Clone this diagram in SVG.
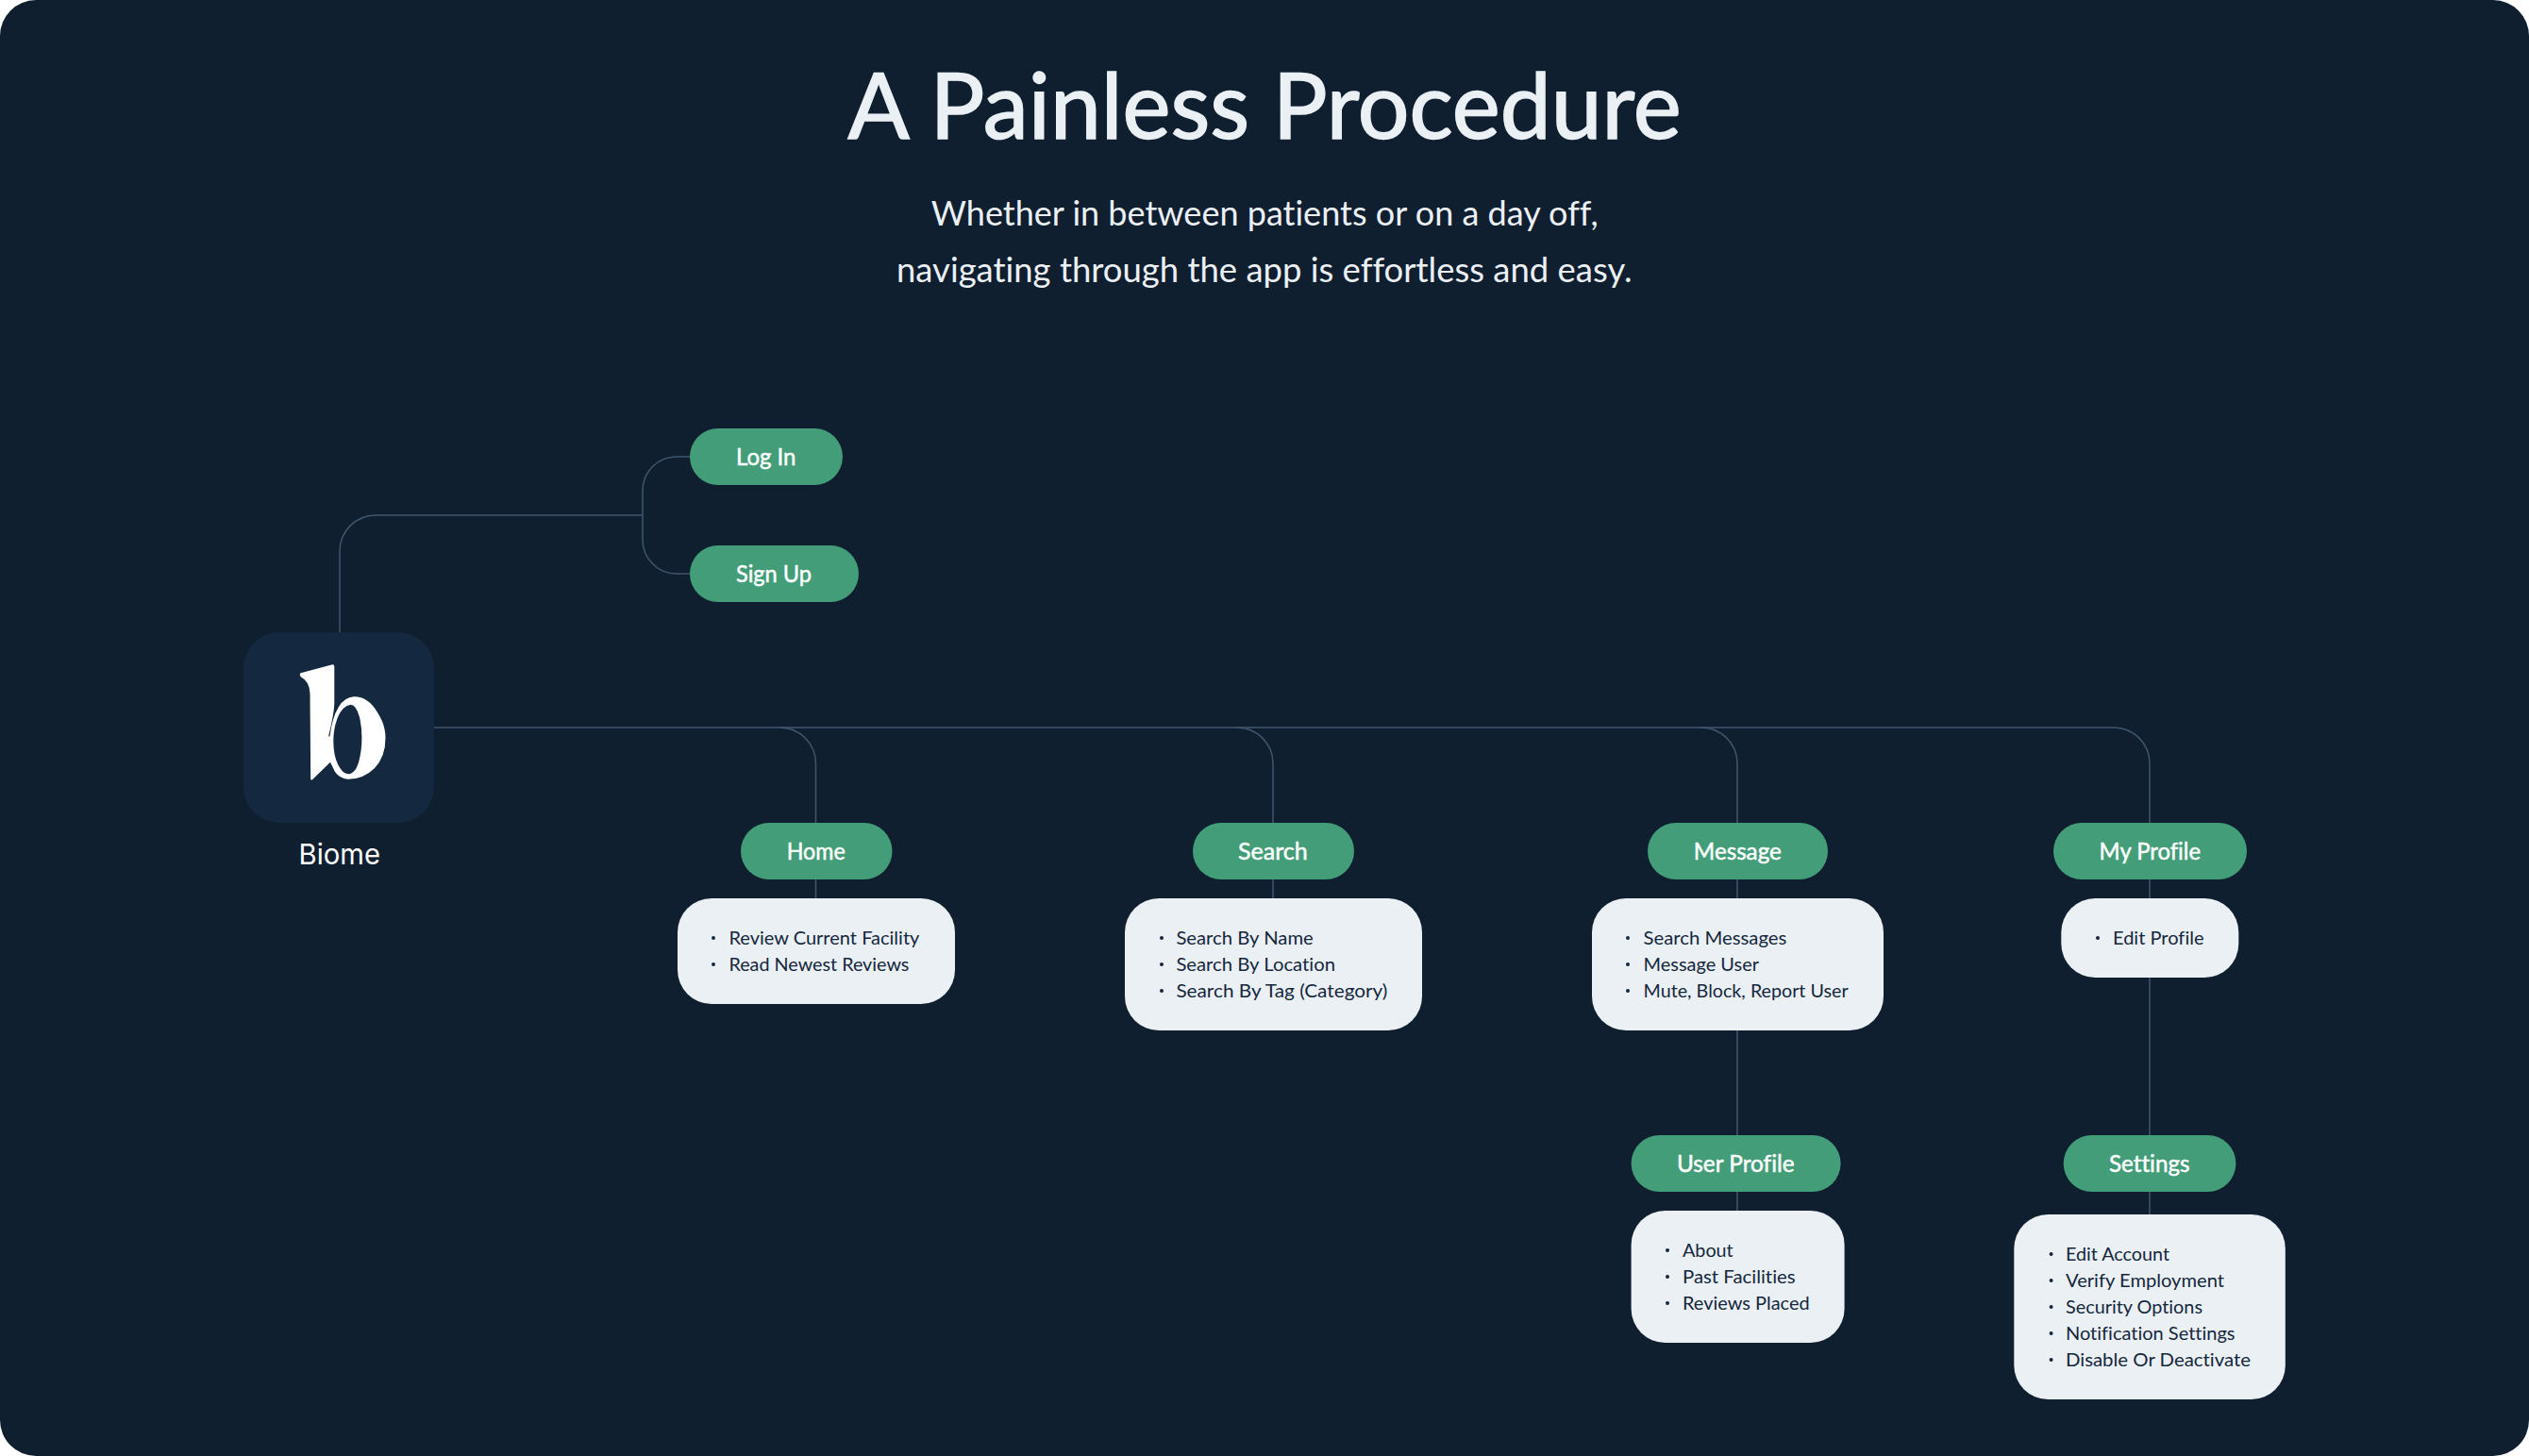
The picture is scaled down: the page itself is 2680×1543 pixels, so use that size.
<svg xmlns="http://www.w3.org/2000/svg" width="2680" height="1543" viewBox="0 0 2680 1543">
<style>
text{font-family:"Lato","Noto Sans","Liberation Sans",sans-serif;font-variant-ligatures:none}
.pill{fill:#429d78}
.box{fill:#ebf0f5}
.pt{fill:#fff;font-size:25px;font-weight:400;stroke:#fff;stroke-width:.5px}
.li{fill:#14273d;font-size:20px;font-weight:400}
.bu{fill:#14273d}
.c{fill:none;stroke:#3f566e;stroke-width:1.5}
</style>
<rect width="2680" height="1543" fill="#fff"/>
<rect width="2680" height="1543" rx="38" fill="#101f30"/>
<g id="title">
<text x="898.6" y="147" font-size="96" font-weight="400" fill="#ebf0f5" stroke="#ebf0f5" stroke-width="1.6" textLength="883" lengthAdjust="spacingAndGlyphs">A Painless Procedure</text>
<text x="986.7" y="239" font-size="36" font-weight="400" fill="#ebf0f5" textLength="707" lengthAdjust="spacingAndGlyphs">Whether in between patients or on a day off,</text>
<text x="950" y="299" font-size="36" font-weight="400" fill="#ebf0f5" textLength="779.5" lengthAdjust="spacingAndGlyphs">navigating through the app is effortless and easy.</text>
</g>
<g id="connectors">
<path class="c" d="M360 670V584a38 38 0 0 1 38-38H680.5"/>
<path class="c" d="M731 484H717a36 36 0 0 0-36 36V572a36 36 0 0 0 36 36H731"/>
<path class="c" d="M460 771H2240a38 38 0 0 1 38 38V1287"/>
<path class="c" d="M826 771a38 38 0 0 1 38.500 38V952"/>
<path class="c" d="M1311 771a38 38 0 0 1 38 38V952"/>
<path class="c" d="M1803 771a38 38 0 0 1 38 38V1283"/>
</g>
<g id="biome">
<rect x="258" y="670" width="202" height="202" rx="38" fill="#14293f"/>
<path fill="#fff" fill-rule="evenodd" d="M318.600 713.200L352.200 704.300Q354.300 704 354.300 706.500L354.300 745Q354.300 755 348.200 780Q349 781 349.500 780Q352 760 359 749Q365 739 375 738.300Q390 738 400 755Q408.500 768 408.500 782Q408.500 802 397 814Q385 826 368.500 825.800Q360 825 355 818L350 807.700L331 826.300Q329.300 827.500 329.200 825L328.500 735Q328 722 319 717.500Q316.800 715 318.600 713.200ZM371.700 746.700Q363 748 358 760Q353.300 772 353.300 785Q353.300 800 358 810Q363 820 369 820.200Q377 820 380.500 806Q383.400 795 383.400 782Q383.400 770 381 760Q377.500 747 371.700 746.700Z"/>
<text x="316.500" y="916" font-size="30" fill="#fff" textLength="86.500" lengthAdjust="spacingAndGlyphs" style="font-family:'Inter','Liberation Sans',sans-serif">Biome</text>
</g>
<g id="login"><rect class="pill" x="731" y="454" width="162" height="60" rx="30"/><text class="pt" x="780" y="493.300" textLength="63.500" lengthAdjust="spacingAndGlyphs">Log In</text></g>
<g id="signup"><rect class="pill" x="731" y="578" width="179" height="60" rx="30"/><text class="pt" x="780" y="617.300" textLength="80" lengthAdjust="spacingAndGlyphs">Sign Up</text></g>
<g id="home"><rect class="pill" x="785" y="872" width="160.500" height="60" rx="30"/><text class="pt" x="833.700" y="911.300" textLength="62" lengthAdjust="spacingAndGlyphs">Home</text></g>
<g id="home-list"><rect class="box" x="718" y="952" width="294" height="112" rx="36"/>
<circle class="bu" cx="756" cy="994" r="2"/><text class="li" x="772.400" y="1001" textLength="202" lengthAdjust="spacingAndGlyphs">Review Current Facility</text>
<circle class="bu" cx="756" cy="1022" r="2"/><text class="li" x="772.400" y="1029" textLength="191" lengthAdjust="spacingAndGlyphs">Read Newest Reviews</text></g>
<g id="search"><rect class="pill" x="1264" y="872" width="171" height="60" rx="30"/><text class="pt" x="1312" y="911.300" textLength="73.700" lengthAdjust="spacingAndGlyphs">Search</text></g>
<g id="search-list"><rect class="box" x="1192" y="952" width="315" height="140" rx="36"/>
<circle class="bu" cx="1231" cy="994" r="2"/><text class="li" x="1246.400" y="1001" textLength="145.400" lengthAdjust="spacingAndGlyphs">Search By Name</text>
<circle class="bu" cx="1231" cy="1022" r="2"/><text class="li" x="1246.400" y="1029" textLength="168.600" lengthAdjust="spacingAndGlyphs">Search By Location</text>
<circle class="bu" cx="1231" cy="1050" r="2"/><text class="li" x="1246.400" y="1057" textLength="224" lengthAdjust="spacingAndGlyphs">Search By Tag (Category)</text></g>
<g id="message"><rect class="pill" x="1746" y="872" width="191" height="60" rx="30"/><text class="pt" x="1794.800" y="911.300" textLength="93" lengthAdjust="spacingAndGlyphs">Message</text></g>
<g id="message-list"><rect class="box" x="1687" y="952" width="309" height="140" rx="36"/>
<circle class="bu" cx="1725" cy="994" r="2"/><text class="li" x="1741.600" y="1001" textLength="151.700" lengthAdjust="spacingAndGlyphs">Search Messages</text>
<circle class="bu" cx="1725" cy="1022" r="2"/><text class="li" x="1741.600" y="1029" textLength="122.400" lengthAdjust="spacingAndGlyphs">Message User</text>
<circle class="bu" cx="1725" cy="1050" r="2"/><text class="li" x="1741.600" y="1057" textLength="217" lengthAdjust="spacingAndGlyphs">Mute, Block, Report User</text></g>
<g id="myprofile"><rect class="pill" x="2176" y="872" width="205" height="60" rx="30"/><text class="pt" x="2224.600" y="911.300" textLength="107.400" lengthAdjust="spacingAndGlyphs">My Profile</text></g>
<g id="myprofile-list"><rect class="box" x="2184.300" y="952" width="188" height="84" rx="36"/>
<circle class="bu" cx="2223" cy="994" r="2"/><text class="li" x="2239" y="1001" textLength="96.500" lengthAdjust="spacingAndGlyphs">Edit Profile</text></g>
<g id="userprofile"><rect class="pill" x="1728.600" y="1203" width="222" height="60" rx="30"/><text class="pt" x="1777" y="1242.300" textLength="124.600" lengthAdjust="spacingAndGlyphs">User Profile</text></g>
<g id="userprofile-list"><rect class="box" x="1728.600" y="1283" width="226" height="140" rx="36"/>
<circle class="bu" cx="1767" cy="1325" r="2"/><text class="li" x="1783" y="1332" textLength="53.700" lengthAdjust="spacingAndGlyphs">About</text>
<circle class="bu" cx="1767" cy="1353" r="2"/><text class="li" x="1783" y="1360" textLength="119.600" lengthAdjust="spacingAndGlyphs">Past Facilities</text>
<circle class="bu" cx="1767" cy="1381" r="2"/><text class="li" x="1783" y="1388" textLength="134.600" lengthAdjust="spacingAndGlyphs">Reviews Placed</text></g>
<g id="settings"><rect class="pill" x="2186.700" y="1203" width="182.700" height="60" rx="30"/><text class="pt" x="2235" y="1242.300" textLength="85.500" lengthAdjust="spacingAndGlyphs">Settings</text></g>
<g id="settings-list"><rect class="box" x="2134.300" y="1287" width="287.500" height="196" rx="36"/>
<circle class="bu" cx="2173.600" cy="1329" r="2"/><text class="li" x="2189" y="1336" textLength="110" lengthAdjust="spacingAndGlyphs">Edit Account</text>
<circle class="bu" cx="2173.600" cy="1357" r="2"/><text class="li" x="2189" y="1364" textLength="168" lengthAdjust="spacingAndGlyphs">Verify Employment</text>
<circle class="bu" cx="2173.600" cy="1385" r="2"/><text class="li" x="2189" y="1392" textLength="145" lengthAdjust="spacingAndGlyphs">Security Options</text>
<circle class="bu" cx="2173.600" cy="1413" r="2"/><text class="li" x="2189" y="1420" textLength="179.500" lengthAdjust="spacingAndGlyphs">Notification Settings</text>
<circle class="bu" cx="2173.600" cy="1441" r="2"/><text class="li" x="2189" y="1448" textLength="196" lengthAdjust="spacingAndGlyphs">Disable Or Deactivate</text></g>
</svg>
